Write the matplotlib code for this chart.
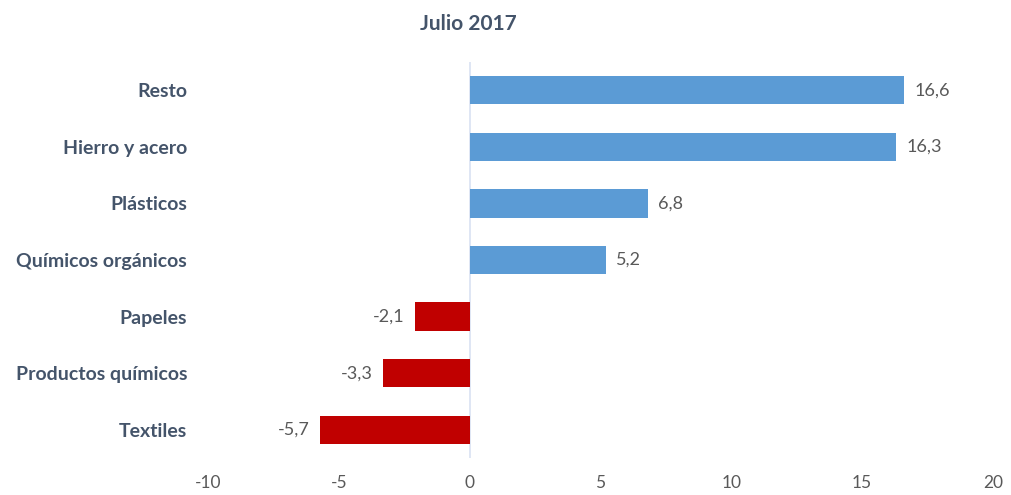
import matplotlib.pyplot as plt

categories = ['Resto', 'Hierro y acero', 'Plásticos', 'Químicos orgánicos',
              'Papeles', 'Productos químicos', 'Textiles']
values = [16.6, 16.3, 6.8, 5.2, -2.1, -3.3, -5.7]
xticks = [-10, -5, 0, 5, 10, 15, 20]

plt.rcParams['font.family'] = ['Lato', 'DejaVu Sans']

fig = plt.figure(figsize=(10.11, 4.95), dpi=100)
ax = fig.add_axes([0.2057, 0.0747, 0.7765, 0.80])

colors = ['#5B9BD5' if v > 0 else '#C00000' for v in values]
ypos = list(range(len(categories)))
ax.barh(ypos, values, height=0.5, color=colors, zorder=2)

for y, v in zip(ypos, values):
    txt = f'{v:.1f}'.replace('.', ',')
    if v >= 0:
        ax.text(v + 0.4, y, txt, va='center', ha='left', fontsize=13, color='#595959')
    else:
        ax.text(v - 0.4, y, txt, va='center', ha='right', fontsize=13, color='#595959')

ax.axvline(0, color='#D9E1F2', lw=1.2, zorder=1)

ax.set_xlim(-10, 20)
ax.set_ylim(len(categories) - 0.5, -0.5)
ax.set_xticks(xticks)
ax.set_xticklabels([str(t) for t in xticks], fontsize=12.5, color='#595959')
ax.set_yticks(ypos)
ax.set_yticklabels(categories, fontsize=14, fontweight='bold', color='#44546A')
ax.tick_params(axis='both', length=0)
ax.tick_params(axis='x', pad=12)
ax.tick_params(axis='y', pad=15)
for s in ax.spines.values():
    s.set_visible(False)

fig.text(0.463, 0.952, 'Julio 2017', ha='center', va='center',
         fontsize=15, fontweight='bold', color='#44546A')

fig.savefig('out.png', dpi=100)
